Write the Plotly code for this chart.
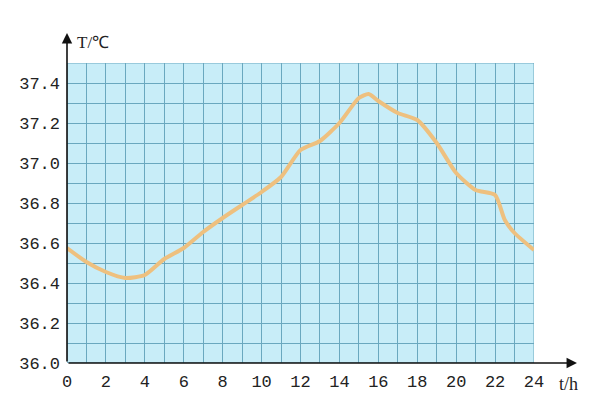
import plotly.graph_objects as go

hours = [0, 1, 2, 3, 4, 5, 6, 7, 8, 9, 10, 11, 12, 13, 14, 15, 15.5, 16, 17, 18, 19, 20, 21, 22, 22.5, 23, 24]
temps = [36.575, 36.505, 36.455, 36.425, 36.44, 36.52, 36.575, 36.655, 36.725, 36.79, 36.855, 36.93,
         37.065, 37.11, 37.2, 37.325, 37.345, 37.31, 37.25, 37.215, 37.10, 36.95, 36.865, 36.84,
         36.715, 36.65, 36.565]
x_ticks = list(range(0, 25, 2))
y_ticks = [36.0, 36.2, 36.4, 36.6, 36.8, 37.0, 37.2, 37.4]

GRID = "#6aa8bf"
BG = "#c8edf8"
LINE = "#eec07f"
FONT = "Liberation Mono"

fig = go.Figure()
fig.add_trace(go.Scatter(x=hours, y=temps, mode="lines",
                         line=dict(color=LINE, width=4, shape="spline", smoothing=0.6),
                         hoverinfo="skip", showlegend=False))

fig.update_layout(
    width=600, height=414,
    margin=dict(l=59, r=74, t=55, b=59),
    paper_bgcolor="white", plot_bgcolor=BG,
    showlegend=False,
    xaxis=dict(range=[0, 24], tickvals=x_ticks, ticktext=[str(v) for v in x_ticks],
               showgrid=True, gridcolor=GRID, gridwidth=1,
               minor=dict(dtick=1, tick0=0, showgrid=True, gridcolor=GRID, gridwidth=1),
               zeroline=False, showline=False, ticks="", ticklabelstandoff=6,
               tickfont=dict(family=FONT, size=17, color="#222")),
    yaxis=dict(range=[36, 37.5], tickvals=y_ticks, ticktext=[f"{v:.1f}" for v in y_ticks],
               showgrid=True, gridcolor=GRID, gridwidth=1,
               minor=dict(dtick=0.1, tick0=36, showgrid=True, gridcolor=GRID, gridwidth=1),
               zeroline=False, showline=False, ticks="", ticklabelstandoff=6,
               tickfont=dict(family=FONT, size=17, color="#222")),
)

# grid border (top/right)
fig.add_shape(type="rect", xref="x", yref="y", x0=0, x1=24, y0=36, y1=37.5,
              line=dict(color=GRID, width=1), layer="below")

# axis arrows
fig.add_annotation(xref="paper", yref="paper", x=0, y=1.1, ax=0, ay=330,
                   showarrow=True, arrowhead=2, arrowsize=1.3, arrowwidth=1.6,
                   arrowcolor="#111", text="")
fig.add_annotation(xref="paper", yref="paper", x=1.092, y=0, ax=-510, ay=0,
                   showarrow=True, arrowhead=2, arrowsize=1.3, arrowwidth=1.6,
                   arrowcolor="#111", text="")

fig.add_annotation(xref="paper", yref="paper", x=0.017, y=1.068, xanchor="left", yanchor="middle",
                   text="T/℃", showarrow=False,
                   font=dict(family="Liberation Serif", size=17, color="#222"))
fig.add_annotation(xref="paper", yref="paper", x=1.049, y=-0.07, xanchor="left", yanchor="middle",
                   text="t/h", showarrow=False,
                   font=dict(family="Liberation Serif", size=18, color="#222"))

fig.write_html("out.html")
